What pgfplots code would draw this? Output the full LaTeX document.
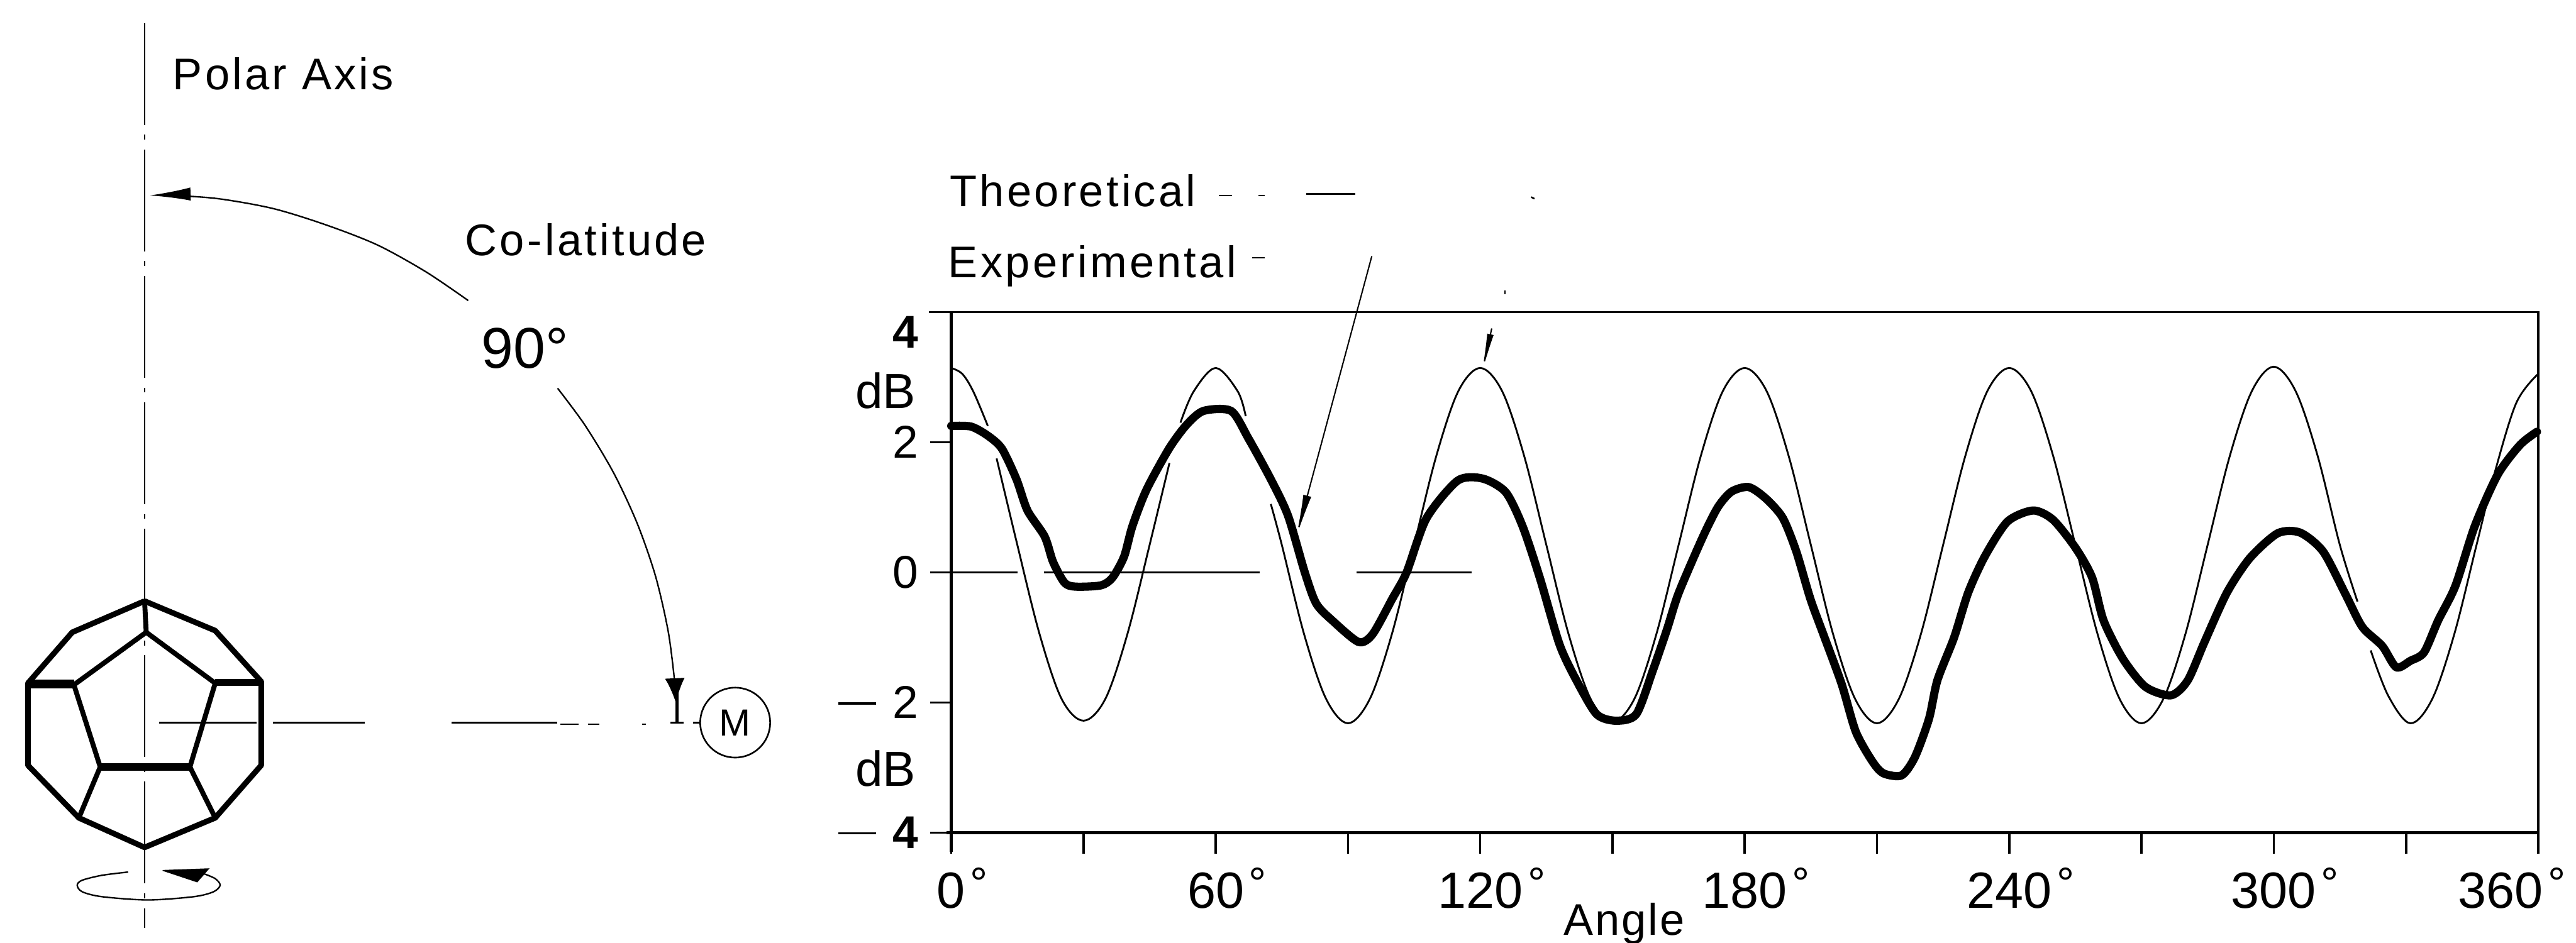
\documentclass[border=0pt]{standalone}
\usepackage{fontspec}
\setmainfont{Liberation Sans}
\usepackage{pgfplots}
\pgfplotsset{compat=1.18}
\usetikzlibrary{arrows.meta}
\newcommand{\fs}[1]{\fontsize{#1}{#1}\selectfont}
\newcommand{\mdash}{\raisebox{8.5pt}{\rule{23pt}{1.4pt}}\hspace{10pt}}
\newcommand{\dg}{\rlap{\hspace{3pt}\raisebox{6pt}{\fs{27}°}}}
\begin{document}
\begin{tikzpicture}[x=1pt,y=1pt]
\useasboundingbox (0,0) rectangle (1568,574);
% ---------- overlay: the drawing on the left, legend and leaders
\begin{axis}[at={(0pt,0pt)},anchor=south west,scale only axis,width=1568pt,height=574pt,
  xmin=0,xmax=1568,ymin=0,ymax=574,y dir=reverse,hide axis,clip=false]
% polar axis
\addplot[line width=1pt,dash pattern=on 62pt off 6pt on 3pt off 6pt] coordinates {(88,14)(88,565)};
% horizontal line to the microphone
\addplot[line width=1.1pt] coordinates {(97,440)(156,440)};
\addplot[line width=1.1pt] coordinates {(166,440)(222,440)};
\addplot[line width=1.1pt] coordinates {(275,440)(339,440)};
\addplot[line width=1pt] coordinates {(341,441)(352,441)};
\addplot[line width=1pt] coordinates {(358,441)(365,441)};
\addplot[line width=1pt] coordinates {(391,441)(393,441)};
\addplot[line width=1pt] coordinates {(422,440)(426,440)};
% dodecahedron
\addplot[line width=3.4pt,line join=round] coordinates {(88,366)(44,385)(17,416)(17,466)(48,498)(88,516)(131,498)(159,466)(159,415)(131,384)(88,366)};
\addplot[line width=3pt,line join=round] coordinates {(89,385)(45,417)(61,467)(115.6,467)(131,416)(89,385)};
\addplot[line width=3pt] coordinates {(88,366)(89,385)};
\addplot[line width=5pt] coordinates {(17,416.5)(45,416.5)};
\addplot[line width=4pt] coordinates {(131,415.5)(159,415.5)};
\addplot[line width=4.5pt] coordinates {(61,467)(115.6,467)};
\addplot[line width=3pt] coordinates {(61,467)(48,498)};
\addplot[line width=3pt] coordinates {(115.6,467)(131,498)};
% rotation sense
\addplot[line width=0.9pt,smooth] coordinates {(78,531)(62,533)(50,536)(47,539)(50,543)(62,546)(90,548)(118,546)(130,543)(134,539)(131,535)(124,532)};
\addplot[fill=black,draw=black,line width=0.5pt] coordinates {(99,530)(127,529)(120,537)(99,530)};
% microphone
\draw[line width=1pt] (axis cs:447.5,440) circle [radius=21.3pt];
\node[font=\fs{23}] at (axis cs:447.5,440) {M};
% co-latitude arcs
\addplot[line width=0.9pt,smooth,-{Latex[length=25pt,width=8pt]}] coordinates {(285,183)(259.4,165.6)(229.8,149.2)(198.6,137)(166.3,127)(133,121)(105,119)(91,119)};
\addplot[line width=0.9pt,smooth,-{Latex[length=15pt,width=12pt]}] coordinates {(339.4,236.4)(356.2,259.1)(373.6,288.1)(387.9,318.8)(399,350.8)(406.6,383.8)(410.3,411.8)(411.4,428)};
\addplot[line width=2pt] coordinates {(412,420)(412,440)};
\addplot[line width=1pt] coordinates {(408,440)(416,440)};
% leaders
\addplot[line width=0.8pt,-{Latex[length=26pt,width=5pt]}] coordinates {(835,156)(789,327)};
\addplot[line width=0.8pt,-{Latex[length=24pt,width=4pt]}] coordinates {(908,200)(902,227)};
\addplot[line width=1pt] coordinates {(916,177)(916,179)};
% legend dashes
\addplot[line width=1pt] coordinates {(742,119)(750,119)};
\addplot[line width=1pt] coordinates {(766,119)(770,119)};
\addplot[line width=1pt] coordinates {(795,118)(825,118)};
\addplot[line width=1pt] coordinates {(932,120)(934,121)};
\addplot[line width=1pt] coordinates {(762,157)(770,157)};
% text
\node[anchor=west,font=\fs{27},inner sep=0pt] at (axis cs:105,45) {\addfontfeature{LetterSpace=6}Polar Axis};
\node[anchor=west,font=\fs{27},inner sep=0pt] at (axis cs:283,146) {\addfontfeature{LetterSpace=6}Co-latitude};
\node[anchor=west,font=\fs{35},inner sep=0pt] at (axis cs:293,212) {90°};
\node[anchor=west,font=\fs{27},inner sep=0pt] at (axis cs:578,116) {\addfontfeature{LetterSpace=6}Theoretical};
\node[anchor=west,font=\fs{27},inner sep=0pt] at (axis cs:577,162) {\addfontfeature{LetterSpace=6}Experimental};
\node[font=\fs{30},inner sep=0pt] at (axis cs:539,238) {dB};
\node[font=\fs{30},inner sep=0pt] at (axis cs:539,468) {dB};
\end{axis}
% ---------- the response plot
\begin{axis}[at={(579pt,67pt)},anchor=south west,scale only axis,width=966pt,height=317pt,
  xmin=0,xmax=360,ymin=-4,ymax=4,clip=false,unbounded coords=jump,
  axis line style={line width=1.2pt},
  xtick={0,30,...,360},
  xticklabels={0\dg,,60\dg,,120\dg,,180\dg,,240\dg,,300\dg,,\kern-46pt 360\dg},
  ytick={-4,-2,0,2,4},
  yticklabels={\mdash\textbf{4},\mdash 2,0,2,\raisebox{-22pt}[0pt][0pt]{\textbf{4}}},
  tick style={black,line width=1.4pt},
  tick align=outside,
  xtick pos=bottom,ytick pos=left,
  major tick length=13pt,
  xticklabel style={font=\fs{31},anchor=north,inner sep=0pt,yshift=-8pt},
  yticklabel style={font=\fs{28},anchor=east,inner sep=0pt,xshift=-7pt},
  xlabel={\addfontfeature{LetterSpace=4}Angle},
  xlabel style={font=\fs{27},at={(axis description cs:0.424,-0.175)},anchor=center,inner sep=0pt},
]
% frame weights
\addplot[line width=2.2pt] coordinates {(0,-4.3)(0,4)};
\addplot[line width=1.8pt] coordinates {(-1,-4)(360,-4)};
\addplot[line width=1pt] coordinates {(-5,4)(360,4)};
% zero line
\addplot[line width=1pt] coordinates {(0,0)(15,0)};
\addplot[line width=1pt] coordinates {(21,0)(70,0)};
\addplot[line width=1pt] coordinates {(92,0)(118,0)};
% theoretical
\addplot[line width=1.1pt,smooth,tension=0.55] coordinates {
(0,3.14)(2.5,3.05)(5,2.78)(8.3,2.25)(8.4,nan)(10.3,1.75)(15,0.42)(20,-0.94)(25,-1.94)(30,-2.28)(35,-1.94)(40,-0.94)(45,0.42)(49.5,1.68)
(50,nan)(52,2.3)(55,2.78)(60,3.14)(65,2.78)(66.8,2.4)(67,nan)(72.5,1.05)(75,0.42)(80,-0.94)(85,-1.94)(90,-2.32)(95,-1.94)(100,-0.94)(105,0.42)(110,1.78)(115,2.78)(120,3.14)(125,2.78)(130,1.78)(135,0.42)(140,-0.94)(145,-1.94)(150,-2.3)(155,-1.94)(160,-0.94)(165,0.42)(170,1.78)(175,2.78)(180,3.14)(185,2.78)(190,1.78)(195,0.42)(200,-0.94)(205,-1.94)(210,-2.32)(215,-1.94)(220,-0.94)(225,0.42)(230,1.78)(235,2.78)(240,3.14)(245,2.78)(250,1.78)(255,0.42)(260,-0.94)(265,-1.94)(270,-2.32)(275,-1.94)(280,-0.94)(285,0.42)(290,1.78)(295,2.78)(300,3.16)(305,2.78)(310,1.78)(315,0.42)(319,-0.45)
(320,nan)(322,-1.2)(326,-1.9)(331,-2.32)(336,-1.94)(341,-0.94)(346,0.42)(350,1.5)(355,2.6)(360,3.05)};
% experimental
\addplot[line width=5pt,line join=round,line cap=round,smooth,tension=0.45] coordinates {
(0,2.25)(4.5,2.24)(8.3,2.1)(11.5,1.9)(14.8,1.43)(17.3,0.95)(21.2,0.55)(23.1,0.16)(25.7,-0.16)(28.2,-0.22)(34,-0.2)(36.6,-0.08)(39.2,0.24)(41.1,0.71)(44.3,1.27)(49.4,1.9)(53.3,2.26)(57.2,2.48)(63.5,2.48)(67.4,2.06)(72.5,1.43)(76.4,0.87)(80.2,0)(82.8,-0.48)(86.6,-0.75)(92.4,-1.07)(95.6,-0.95)(100.1,-0.4)(103.3,0)(107.8,0.83)(114.9,1.41)(120.6,1.44)(125.8,1.23)(129.6,0.71)(133.5,-0.08)(138,-1.11)(141.9,-1.67)(146.4,-2.18)(150.8,-2.28)(155.4,-2.18)(159.2,-1.5)(162.4,-0.87)(165,-0.32)(170.4,0.53)(173.9,1)(177,1.24)(180.9,1.31)(184.7,1.14)(188.6,0.84)(191.7,0.32)(194.9,-0.41)(198.1,-1)(202,-1.72)(205.2,-2.45)(209,-2.91)(211.5,-3.09)(215.6,-3.12)(218.6,-2.84)(221.8,-2.25)(223.7,-1.66)(227.5,-1)(230.7,-0.31)(234.5,0.25)(239.6,0.78)(245.4,0.95)(249.9,0.81)(255,0.38)(258.8,-0.08)(261.4,-0.74)(265.8,-1.33)(270.9,-1.76)(276.7,-1.89)(280.5,-1.66)(284.3,-1.07)(289.4,-0.31)(294.6,0.22)(300.9,0.6)(306,0.61)(311.2,0.32)(316.3,-0.34)(320.1,-0.84)(324.6,-1.13)(327.8,-1.46)(331,-1.36)(334.1,-1.23)(337.3,-0.74)(341.2,-0.21)(345.6,0.71)(350.8,1.5)(355.9,1.96)(359.7,2.16)};
\end{axis}
\end{tikzpicture}
\end{document}
